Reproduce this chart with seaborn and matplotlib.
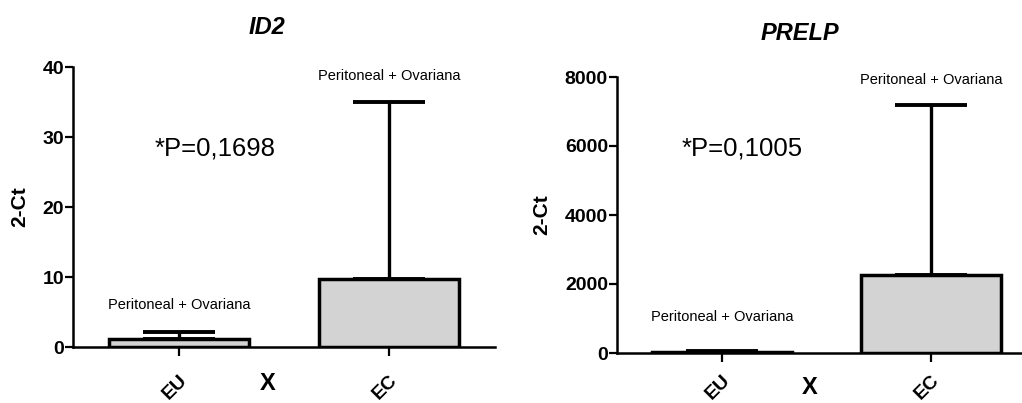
import matplotlib
matplotlib.use("Agg")
import matplotlib.pyplot as plt
import seaborn as sns
import pandas as pd

sns.set_style("ticks")
plt.rcParams['font.family'] = ['Liberation Sans', 'DejaVu Sans']
plt.rcParams.update({"text.color": "black", "axes.labelcolor": "black",
                     "xtick.color": "black", "ytick.color": "black",
                     "axes.edgecolor": "black"})

groups = ["EU", "EC"]
id2_mean = [1.1, 9.7]
id2_upper = [2.1, 35.0]
prelp_mean = [25, 2260]
prelp_upper = [60, 7190]
id2_ticks = [0, 10, 20, 30, 40]
prelp_ticks = [0, 2000, 4000, 6000, 8000]
subgroup_label = "Peritoneal + Ovariana"
id2_p = "*P=0,1698"
prelp_p = "*P=0,1005"

W, H = 1022, 403
fig = plt.figure(figsize=(W / 100, H / 100), dpi=100)

def px(x0, y0, x1, y1):
    return [x0 / W, 1 - y1 / H, (x1 - x0) / W, (y1 - y0) / H]

panels = [
    dict(rect=px(73, 67, 495, 347), mean=id2_mean, upper=id2_upper, ticks=id2_ticks,
         title="ID2", title_xy=(267, 27), ylab_xy=(20, 207), ptext=id2_p,
         p_xy=(0.17, 28.4), eu_lab_y=6.0, ec_lab_y=38.7, xlim=(-0.505, 1.505),
         pad=11, x_y=-0.13),
    dict(rect=px(617, 77, 1036, 353), mean=prelp_mean, upper=prelp_upper, ticks=prelp_ticks,
         title="PRELP", title_xy=(800, 33), ylab_xy=(542, 215), ptext=prelp_p,
         p_xy=(0.096, 5942), eu_lab_y=1043, ec_lab_y=7913, xlim=(-0.502, 1.502),
         pad=7, x_y=-0.125),
]

for p in panels:
    ax = fig.add_axes(p["rect"])
    df = pd.DataFrame({"group": groups, "value": p["mean"]})
    sns.barplot(data=df, x="group", y="value", ax=ax, color="#d3d3d3",
                edgecolor="black", linewidth=2.5, width=0.67, errorbar=None,
                saturation=1, zorder=3)
    err_hi = [u - m for u, m in zip(p["upper"], p["mean"])]
    ax.errorbar([0, 1], p["mean"], yerr=[[0, 0], err_hi], fmt="none",
                ecolor="black", elinewidth=2.4, capsize=26, capthick=2.8, zorder=2)
    ax.set_xlim(*p["xlim"])
    ax.set_ylim(p["ticks"][0], p["ticks"][-1])
    ax.set_yticks(p["ticks"])
    ax.set_yticklabels([str(t) for t in p["ticks"]], fontsize=14, fontweight="bold")
    ax.set_xticks([0, 1])
    ax.set_xticklabels(groups, fontsize=14, fontweight="bold", rotation=45,
                       ha="right", rotation_mode="anchor")
    ax.tick_params(axis="x", length=6.5, width=1.6, pad=p["pad"])
    ax.tick_params(axis="y", length=5.5, width=1.6, pad=1)
    ax.set_xlabel("")
    ax.set_ylabel("")
    for s in ["top", "right"]:
        ax.spines[s].set_visible(False)
    for s in ["left", "bottom"]:
        ax.spines[s].set_linewidth(1.8)
    ax.patch.set_alpha(0)
    ax.text(0.42, p["x_y"], "X", transform=ax.get_xaxis_transform(), fontsize=17,
            fontweight="bold", ha="center", va="center")
    ax.text(0, p["eu_lab_y"], subgroup_label, fontsize=10.5, ha="center", va="center")
    ax.text(1, p["ec_lab_y"], subgroup_label, fontsize=10.5, ha="center", va="center")
    ax.text(p["p_xy"][0], p["p_xy"][1], p["ptext"], fontsize=18.5, ha="center", va="center")
    fig.text(p["title_xy"][0] / W, 1 - p["title_xy"][1] / H, p["title"], fontsize=17,
             fontweight="bold", fontstyle="italic", ha="center", va="center")
    fig.text(p["ylab_xy"][0] / W, 1 - p["ylab_xy"][1] / H, "2-Ct", fontsize=15,
             fontweight="bold", rotation=90, ha="center", va="center")

fig.savefig("out.png", dpi=100)
